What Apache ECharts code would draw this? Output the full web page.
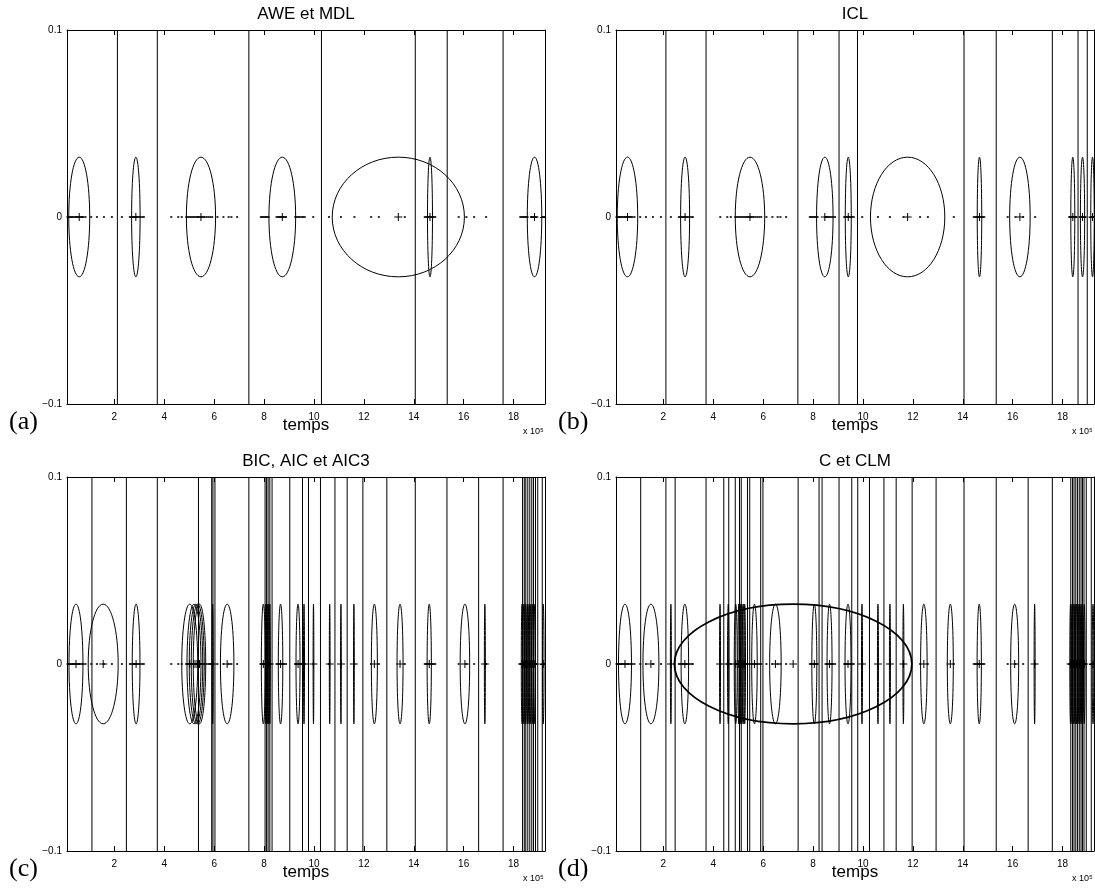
<!DOCTYPE html>
<html>
<head>
<meta charset="utf-8">
<script src="https://cdn.jsdelivr.net/npm/echarts@6/dist/echarts.min.js"></script>
<style>
  html, body { margin: 0; padding: 0; background: #fff; }
  #chart { width: 1095px; height: 896px; }
</style>
</head>
<body>
<div id="chart"></div>
<script>
// Time axis is expressed in units of 10^5 samples.
const X_MIN = 0.1;
const X_MAX = 19.26;
const xTicks = [2, 4, 6, 8, 10, 12, 14, 16, 18];
const yTicks = [-0.1, 0, 0.1];
const ELLIPSE_HALF_HEIGHT = 0.032;

const panelTitles = ['AWE et MDL', 'ICL', 'BIC, AIC et AIC3', 'C et CLM'];
const panelTags = ['(a)', '(b)', '(c)', '(d)'];

// Observations on the time line (shared by all four panels).
const observations = [
  0.12, 0.16, 0.20, 0.25, 0.30, 0.35, 0.40, 0.46, 0.52, 0.58, 0.63, 0.70, 0.76, 0.84,
  1.07, 1.30, 1.58, 1.90, 2.30,
  2.62, 2.68, 2.74, 2.80, 2.85, 2.90, 2.97, 3.05, 3.12, 3.18,
  4.28, 4.56, 4.70,
  4.88, 4.95, 5.02, 5.08, 5.14, 5.20, 5.26, 5.32, 5.38, 5.45, 5.52, 5.60, 5.68, 5.76, 5.84, 5.92,
  6.13, 6.37, 6.58, 6.69, 6.92,
  7.87, 7.92, 7.97, 8.02, 8.07, 8.12, 8.18,
  8.50, 8.56, 8.62, 8.68, 8.74, 8.80, 8.88,
  9.25, 9.31, 9.37, 9.43, 9.50, 9.56, 9.63,
  9.97, 10.60, 11.08, 11.62, 12.29, 12.60, 13.64,
  14.44, 14.50, 14.56, 14.62, 14.68, 14.74, 14.80, 14.86,
  15.80, 16.11, 16.42, 16.90,
  18.27, 18.32, 18.37, 18.42, 18.47, 18.52, 18.56,
  18.70, 18.75, 18.80, 18.86, 18.91,
  19.16, 19.20, 19.25
];

// (a) AWE et MDL
const boundsA = [2.12, 3.72, 7.39, 10.30, 14.06, 15.34, 17.58];
const centersA = [0.59, 2.86, 5.47, 8.73, 13.38, 14.65, 18.84];
const halfWidthsA = [0.42, 0.17, 0.585, 0.535, 2.65, 0.10, 0.29];

// (b) ICL
const boundsB = [2.10, 3.71, 7.39, 9.04, 9.78, 14.05, 15.34, 17.59, 18.62, 18.99];
const centersB = [0.56, 2.87, 5.47, 8.47, 9.41, 11.79, 14.67, 16.29, 18.41, 18.80, 19.20];
const halfWidthsB = [0.41, 0.18, 0.59, 0.33, 0.12, 1.49, 0.09, 0.41, 0.08, 0.085, 0.07];

// (c) BIC, AIC et AIC3
const boundsC = [1.10, 2.48, 3.72, 5.37, 5.90, 5.95, 6.03, 7.39, 8.04, 8.10, 8.16, 8.23, 8.32,
  9.03, 9.54, 9.78, 10.26, 10.84, 11.33, 11.96, 12.92, 14.06, 15.33, 16.60, 17.58,
  18.36, 18.43, 18.49, 18.57, 18.65, 18.73, 18.80, 18.88, 18.97, 19.15];
const centersC = [0.46, 1.55, 2.87, 5.02, 5.19, 5.27, 5.34, 5.41, 5.94, 6.52, 7.97, 8.07, 8.12, 8.17, 8.23,
  8.66, 9.36, 9.60, 9.98, 10.63, 11.08, 11.60, 12.42, 13.45, 14.62, 16.05, 16.85,
  18.34, 18.41, 18.48, 18.55, 18.62, 18.69, 18.77, 18.85, 19.19];
const halfWidthsC = [0.28, 0.60, 0.155, 0.32, 0.28, 0.27, 0.26, 0.25, 0.02, 0.27, 0.08, 0.02, 0.02, 0.02, 0.02,
  0.09, 0.08, 0.02, 0.015, 0.015, 0.015, 0.015, 0.12, 0.12, 0.085, 0.19, 0.02,
  0.03, 0.03, 0.03, 0.03, 0.03, 0.03, 0.03, 0.03, 0.03];

// (d) C et CLM
const boundsD = [1.09, 2.10, 2.47, 3.71, 4.42, 4.62, 4.88, 5.05, 5.12, 5.37, 5.46, 5.90, 5.99,
  7.40, 8.24, 8.36, 9.04, 9.55, 9.79, 10.26, 10.84, 11.33, 11.97, 12.93, 14.05, 15.34, 16.62, 17.59,
  18.33, 18.40, 18.46, 18.53, 18.60, 18.67, 18.74, 18.80, 18.86, 18.95, 19.15];
const centersD = [0.46, 1.50, 2.30, 2.86, 7.20, 4.27, 4.60, 4.90, 5.02, 5.08, 5.14, 5.20, 5.26, 5.65, 6.49,
  8.05, 8.66, 9.40, 9.96, 10.60, 11.08, 11.62, 12.44, 13.50, 14.66, 16.08, 16.88,
  18.32, 18.38, 18.44, 18.50, 18.56, 18.62, 18.68, 18.74, 18.80, 18.87, 19.22];
const halfWidthsD = [0.26, 0.32, 0.02, 0.15, 4.76, 0.02, 0.03, 0.06, 0.03, 0.03, 0.05, 0.04, 0.03, 0.11, 0.23,
  0.10, 0.10, 0.12, 0.02, 0.02, 0.02, 0.02, 0.13, 0.12, 0.085, 0.16, 0.02,
  0.03, 0.03, 0.03, 0.03, 0.03, 0.03, 0.03, 0.03, 0.03, 0.03, 0.03];

const panels = [
  { bounds: boundsA, centers: centersA, halfWidths: halfWidthsA },
  { bounds: boundsB, centers: centersB, halfWidths: halfWidthsB },
  { bounds: boundsC, centers: centersC, halfWidths: halfWidthsC },
  { bounds: boundsD, centers: centersD, halfWidths: halfWidthsD }
];

// ---- layout ----
const SANS = '"Liberation Sans", Arial, Helvetica, sans-serif';
const SERIF = '"Liberation Serif", "Times New Roman", serif';
const PLOT_W = 478, PLOT_H = 374;
const gridPos = [
  { left: 67, top: 30 },
  { left: 616, top: 30 },
  { left: 67, top: 477 },
  { left: 616, top: 477 }
];

const black = '#000';
const grids = [], xAxes = [], yAxes = [], series = [], graphics = [];

function fmtY(v) {
  if (Math.abs(v) < 1e-9) return '0';
  return (v < 0 ? '\u2212' : '') + Math.abs(v).toFixed(1);
}

gridPos.forEach((g, i) => {
  grids.push({ left: g.left, top: g.top, width: PLOT_W, height: PLOT_H, containLabel: false });

  const tick = { inside: true, length: 5, lineStyle: { color: black, width: 1 } };
  const line = { onZero: false, lineStyle: { color: black, width: 1 } };

  // bottom x axis (with labels and name)
  xAxes.push({
    gridIndex: i, type: 'value', position: 'bottom', min: X_MIN, max: X_MAX,
    axisLine: line,
    axisTick: Object.assign({ customValues: xTicks }, tick),
    axisLabel: { customValues: xTicks, color: black, fontSize: 10, fontFamily: SANS, margin: 8 },
    splitLine: { show: false },
    name: 'temps', nameLocation: 'middle', nameGap: 13, nameMoveOverlap: false,
    nameTextStyle: { color: black, fontSize: 17, fontFamily: SANS, verticalAlign: 'top' }
  });
  // top x axis (box side with ticks)
  xAxes.push({
    gridIndex: i, type: 'value', position: 'top', min: X_MIN, max: X_MAX,
    axisLine: line,
    axisTick: Object.assign({ customValues: xTicks }, tick),
    axisLabel: { show: false },
    splitLine: { show: false }
  });
  // left y axis
  yAxes.push({
    gridIndex: i, type: 'value', position: 'left', min: -0.1, max: 0.1,
    axisLine: line,
    axisTick: Object.assign({ customValues: yTicks }, tick),
    axisLabel: { customValues: yTicks, formatter: fmtY, color: black, fontSize: 10, fontFamily: SANS, margin: 5 },
    splitLine: { show: false }
  });
  // right y axis
  yAxes.push({
    gridIndex: i, type: 'value', position: 'right', min: -0.1, max: 0.1,
    axisLine: line,
    axisTick: Object.assign({ customValues: yTicks }, tick),
    axisLabel: { show: false },
    splitLine: { show: false }
  });

  const xi = i * 2, yi = i * 2;
  const p = panels[i];

  // segment boundaries: full-height vertical lines
  series.push({
    type: 'custom', xAxisIndex: xi, yAxisIndex: yi, clip: true, silent: true,
    data: p.bounds.map(v => [v, 0]),
    encode: { x: 0, y: 1 },
    renderItem(params, api) {
      const x = api.value(0);
      const a = api.coord([x, -0.1]);
      const b = api.coord([x, 0.1]);
      return {
        type: 'line',
        shape: { x1: a[0], y1: a[1], x2: b[0], y2: b[1] },
        style: { stroke: black, lineWidth: 1 }
      };
    }
  });

  // observations as small dots on the line y = 0
  series.push({
    type: 'scatter', xAxisIndex: xi, yAxisIndex: yi, silent: true,
    symbol: 'rect', symbolSize: 2,
    itemStyle: { color: black },
    data: observations.map(v => [v, 0])
  });

  // cluster ellipses
  series.push({
    type: 'custom', xAxisIndex: xi, yAxisIndex: yi, clip: true, silent: true,
    data: p.centers.map((c, k) => [c, 0, p.halfWidths[k]]),
    encode: { x: 0, y: 1 },
    renderItem(params, api) {
      const c = api.coord([api.value(0), api.value(1)]);
      const hw = api.value(2);
      const s = api.size([hw, ELLIPSE_HALF_HEIGHT]);
      return {
        type: 'ellipse',
        shape: { cx: c[0], cy: c[1], rx: Math.max(s[0], 0.3), ry: s[1] },
        style: { fill: 'none', stroke: black, lineWidth: hw > 3 ? 1.8 : 1 }
      };
    }
  });

  // cluster centres as "+" marks
  series.push({
    type: 'custom', xAxisIndex: xi, yAxisIndex: yi, clip: true, silent: true,
    data: p.centers.map(c => [c, 0]),
    encode: { x: 0, y: 1 },
    renderItem(params, api) {
      const c = api.coord([api.value(0), api.value(1)]);
      const r = 4;
      return {
        type: 'group',
        children: [
          { type: 'line', shape: { x1: c[0] - r, y1: c[1], x2: c[0] + r, y2: c[1] }, style: { stroke: black, lineWidth: 1 } },
          { type: 'line', shape: { x1: c[0], y1: c[1] - r, x2: c[0], y2: c[1] + r }, style: { stroke: black, lineWidth: 1 } }
        ]
      };
    }
  });

  // panel title, tag and axis multiplier
  const cx = g.left + PLOT_W / 2;
  graphics.push({
    type: 'text', x: cx, y: g.top - 16,
    style: { text: panelTitles[i], fill: black, font: '17px ' + SANS, textAlign: 'center', textVerticalAlign: 'middle' }
  });
  graphics.push({
    type: 'text', x: g.left - 58, y: g.top + PLOT_H + 18,
    style: { text: panelTags[i], fill: black, font: '26px ' + SERIF, textAlign: 'left', textVerticalAlign: 'middle' }
  });
  graphics.push({
    type: 'text', x: g.left + PLOT_W - 22, y: g.top + PLOT_H + 28,
    style: { text: 'x 10\u2075', fill: black, font: '9px ' + SANS, textAlign: 'left', textVerticalAlign: 'middle' }
  });
});

const chart = echarts.init(document.getElementById('chart'), null, { renderer: 'canvas' });
chart.setOption({
  animation: false,
  backgroundColor: '#fff',
  grid: grids,
  xAxis: xAxes,
  yAxis: yAxes,
  series: series,
  graphic: graphics
});
</script>
</body>
</html>
